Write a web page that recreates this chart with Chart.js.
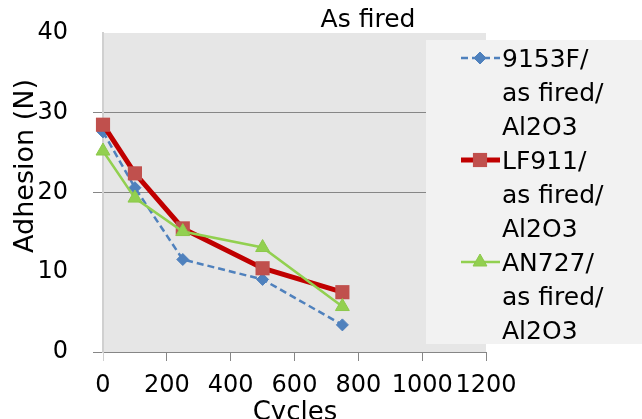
<!DOCTYPE html>
<html>
<head>
<meta charset="utf-8">
<script src="https://cdn.jsdelivr.net/npm/chart.js@4.4.1/dist/chart.umd.min.js"></script>
<style>
  html, body { margin: 0; padding: 0; background: #fff; }
  #wrap { width: 642px; height: 419px; overflow: hidden; }
</style>
</head>
<body>
<div id="wrap"><canvas id="chart" width="642" height="419"></canvas></div>
<script>
const chartTitle = "As fired";
const xTitle = "Cycles";
const yTitle = "Adhesion (N)";

const cycles = [0, 100, 250, 500, 750];
const series9153F = [27.6, 20.6, 11.6, 9.1, 3.4];
const seriesLF911 = [28.5, 22.4, 15.5, 10.5, 7.5];
const seriesAN727 = [25.2, 19.3, 15.1, 13.1, 5.7];
const seriesNames = [
  ["9153F/", "as fired/", "Al2O3"],
  ["LF911/", "as fired/", "Al2O3"],
  ["AN727/", "as fired/", "Al2O3"],
];
const xTicks = [0, 200, 400, 600, 800, 1000, 1200];
const yTicks = [0, 10, 20, 30, 40];

const FONT = "'DejaVu Sans', sans-serif";
const toPoints = (vals) => cycles.map((c, i) => ({ x: c, y: vals[i] }));

// plot background, titles and the overlapping legend box
const decorations = {
  id: "decorations",
  beforeDraw(chart) {
    const { ctx, chartArea: a } = chart;
    ctx.save();
    ctx.fillStyle = "#e6e6e6";
    ctx.fillRect(a.left, a.top, a.right - a.left, a.bottom - a.top);
    ctx.restore();
  },
  afterDraw(chart) {
    const { ctx } = chart;
    ctx.save();
    ctx.fillStyle = "#000";
    ctx.textAlign = "center";
    ctx.textBaseline = "alphabetic";
    ctx.font = "25px " + FONT;
    ctx.fillText(chartTitle, 368, 27);

    ctx.font = "26px " + FONT;
    ctx.fillText(xTitle, 295, 420);

    ctx.save();
    ctx.translate(33, 166);
    ctx.rotate(-Math.PI / 2);
    ctx.font = "27px " + FONT;
    ctx.fillText(yTitle, 0, 0);
    ctx.restore();

    // legend, drawn over the right part of the plot like the original
    ctx.fillStyle = "#f2f2f2";
    ctx.fillRect(426, 40, 642 - 426, 304);
    chart.data.datasets.forEach((ds, i) => {
      const cy = 58 + i * 102;
      ctx.save();
      ctx.strokeStyle = ds.borderColor;
      ctx.lineWidth = ds.borderWidth;
      ctx.setLineDash(ds.borderDash || []);
      ctx.beginPath();
      ctx.moveTo(461, cy);
      ctx.lineTo(500, cy);
      ctx.stroke();
      ctx.setLineDash([]);
      ctx.fillStyle = ds.pointBackgroundColor;
      ctx.strokeStyle = ds.pointBorderColor;
      ctx.lineWidth = ds.pointBorderWidth;
      Chart.helpers.drawPoint(ctx, {
        pointStyle: ds.pointStyle,
        radius: ds.pointRadius,
        borderWidth: ds.pointBorderWidth,
        rotation: 0,
      }, 480, cy);
      ctx.restore();

      ctx.fillStyle = "#000";
      ctx.textAlign = "left";
      ctx.font = "25px " + FONT;
      seriesNames[i].forEach((line, k) => {
        ctx.fillText(line, 502, cy + 9 + k * 34);
      });
    });
    ctx.restore();
  },
};

const gridGray = "#868686";

new Chart(document.getElementById("chart"), {
  type: "line",
  data: {
    datasets: [
      {
        label: seriesNames[0].join(" "),
        data: toPoints(series9153F),
        borderColor: "#4f81bd",
        borderWidth: 2.5,
        borderDash: [7, 4],
        pointStyle: "rectRot",
        pointRadius: 6,
        pointBackgroundColor: "#4f81bd",
        pointBorderColor: "#4f81bd",
        pointBorderWidth: 1,
        order: 2,
      },
      {
        label: seriesNames[1].join(" "),
        data: toPoints(seriesLF911),
        borderColor: "#c00000",
        borderWidth: 5,
        pointStyle: "rect",
        pointRadius: 10,
        pointBackgroundColor: "#c0504d",
        pointBorderColor: "#c0504d",
        pointBorderWidth: 0,
        order: 1,
      },
      {
        label: seriesNames[2].join(" "),
        data: toPoints(seriesAN727),
        borderColor: "#92d050",
        borderWidth: 2.5,
        pointStyle: "triangle",
        pointRadius: 8,
        pointBackgroundColor: "#92d050",
        pointBorderColor: "#8cc84b",
        pointBorderWidth: 1,
        order: 0,
      },
    ],
  },
  options: {
    responsive: false,
    animation: false,
    clip: false,
    layout: { autoPadding: false, padding: { left: 0, top: 33, right: 156, bottom: 0 } },
    plugins: {
      legend: { display: false },
      title: { display: false },
      tooltip: { enabled: false },
    },
    elements: { line: { tension: 0 } },
    scales: {
      x: {
        type: "linear",
        min: 0,
        max: 1200,
        afterFit: (s) => { s.height = 67; s.paddingLeft = 0; s.paddingRight = 0; },
        afterBuildTicks: (s) => { s.ticks = xTicks.map((v) => ({ value: v })); },
        border: { color: gridGray, width: 1 },
        grid: {
          drawOnChartArea: false,
          drawTicks: true,
          tickLength: 9,
          color: (c) => (c.tick && c.tick.value === 0 ? "#d0d0d0" : gridGray),
        },
        ticks: {
          color: "#000",
          padding: 10,
          maxRotation: 0,
          autoSkip: false,
          font: { family: FONT, size: 24 },
          callback: (v) => String(v),
        },
      },
      y: {
        min: 0,
        max: 40,
        // fixed axis width; drop the label overhang padding so the plot top sits where the original does
        afterFit: (s) => { s.width = 103; s.paddingTop = 0; s.paddingBottom = 0; },
        afterBuildTicks: (s) => { s.ticks = yTicks.map((v) => ({ value: v })); },
        border: { color: "#d0d0d0", width: 2 },
        grid: {
          drawTicks: true,
          tickLength: 10,
          color: (c) => {
            const v = c.tick ? c.tick.value : null;
            return v === 0 || v === 20 || v === 30 ? gridGray : "rgba(0,0,0,0)";
          },
        },
        ticks: {
          color: "#000",
          padding: 25,
          font: { family: FONT, size: 24 },
          callback: (v) => String(v),
        },
      },
    },
  },
  plugins: [decorations],
});
</script>
</body>
</html>
